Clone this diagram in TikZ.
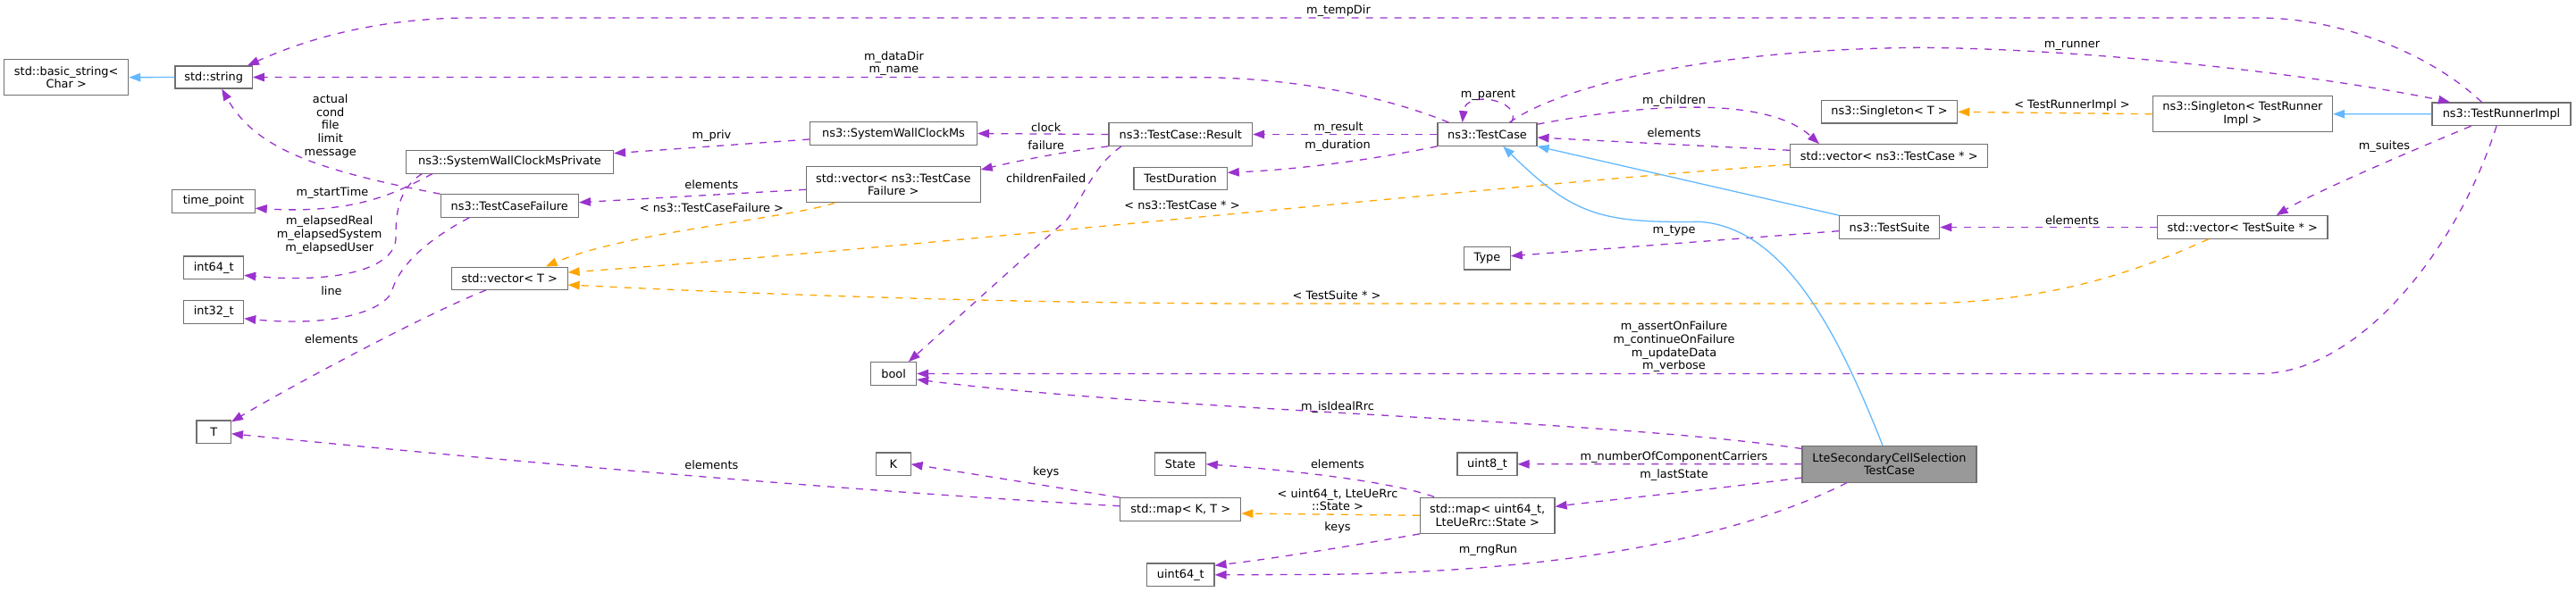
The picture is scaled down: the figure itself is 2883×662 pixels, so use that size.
\documentclass[tikz,border=0pt]{standalone}
\usepackage{fontspec}
\setmainfont{DejaVu Sans}
\usetikzlibrary{arrows.meta}
\definecolor{purp}{HTML}{9A32CD}
\definecolor{orng}{HTML}{FFA500}
\definecolor{blu}{HTML}{63B8FF}
\definecolor{bord}{HTML}{707070}
\definecolor{mainfill}{HTML}{999999}
\begin{document}
\begin{tikzpicture}[x=1pt,y=-1pt,
  box/.style={draw=bord, line width=1.1pt, fill=white, inner sep=0pt, align=center, font=\fontsize{12.9}{14.7}\selectfont},
  lbl/.style={inner sep=0pt, align=center, font=\fontsize{12.9}{14.7}\selectfont},
  mem/.style={draw=purp, line width=1.3pt, dash pattern=on 8pt off 8pt, -{Triangle[length=13pt,width=9.5pt]}},
  tmpl/.style={draw=orng, line width=1.3pt, dash pattern=on 8pt off 8pt, -{Triangle[length=13pt,width=9.5pt]}},
  inh/.style={draw=blu, line width=1.3pt, -{Triangle[length=13pt,width=9.5pt]}}]
\useasboundingbox (0,0) rectangle (2883,662);

% nodes
\node[box, minimum width=139pt, minimum height=40pt] (bstr) at (74.2,86.7) {std::basic\_string<\\Char >};
\node[box, minimum width=86.4pt, minimum height=25pt] (str) at (239.2,86.5) {std::string};
\node[box, minimum width=232pt, minimum height=25.7pt] (swcmp) at (570.5,181.2) {ns3::SystemWallClockMsPrivate};
\node[box, minimum width=92.3pt, minimum height=25.7pt] (timept) at (239,225.2) {time\_point};
\node[box, minimum width=154.3pt, minimum height=25.6pt] (tcf) at (570.3,230.5) {ns3::TestCaseFailure};
\node[box, minimum width=67pt, minimum height=25.7pt] (int64) at (239.2,299.8) {int64\_t};
\node[box, minimum width=129.5pt, minimum height=25.3pt] (vecT) at (570.3,311.7) {std::vector< T >};
\node[box, minimum width=67pt, minimum height=25.7pt] (int32) at (239.2,349.2) {int32\_t};
\node[box, minimum width=38.5pt, minimum height=25.7pt] (T) at (239.2,483.8) {T};
\node[box, minimum width=187pt, minimum height=25.6pt] (swcm) at (1000,149.5) {ns3::SystemWallClockMs};
\node[box, minimum width=194.7pt, minimum height=40pt] (vecTCF) at (999.8,206.7) {std::vector< ns3::TestCase\\Failure >};
\node[box, minimum width=51pt, minimum height=25.6pt] (bool) at (1000.1,418.5) {bool};
\node[box, minimum width=38.5pt, minimum height=25.7pt] (K) at (999.8,519.8) {K};
\node[box, minimum width=160.7pt, minimum height=25.6pt] (result) at (1321.3,150.5) {ns3::TestCase::Result};
\node[box, minimum width=104.2pt, minimum height=25.4pt] (tdur) at (1321.1,200) {TestDuration};
\node[box, minimum width=135pt, minimum height=25.6pt] (mapKT) at (1321.3,570.5) {std::map< K, T >};
\node[box, minimum width=56.5pt, minimum height=25.7pt] (state) at (1321,519.8) {State};
\node[box, minimum width=75.4pt, minimum height=25.7pt] (uint64) at (1321.3,643.8) {uint64\_t};
\node[box, minimum width=111pt, minimum height=25.6pt] (tc) at (1664.5,150.5) {ns3::TestCase};
\node[box, minimum width=51.6pt, minimum height=25.3pt] (type) at (1664.5,289.3) {Type};
\node[box, minimum width=67pt, minimum height=25.7pt] (uint8) at (1664.5,519.8) {uint8\_t};
\node[box, minimum width=150.6pt, minimum height=40.3pt] (mapU) at (1664.7,577.2) {std::map< uint64\_t,\\LteUeRrc::State >};
\node[box, minimum width=221.2pt, minimum height=25.6pt] (vecTC) at (2114.2,174.5) {std::vector< ns3::TestCase * >};
\node[box, minimum width=152.2pt, minimum height=25.3pt] (singT) at (2114.6,125.3) {ns3::Singleton< T >};
\node[box, minimum width=112.2pt, minimum height=25.6pt] (tsuite) at (2114.7,254.5) {ns3::TestSuite};
\node[box, fill=mainfill, minimum width=195pt, minimum height=40.7pt] (lte) at (2114.5,519.7) {LteSecondaryCellSelection\\TestCase};
\node[box, minimum width=201.4pt, minimum height=40pt] (singTRI) at (2509.9,127.7) {ns3::Singleton< TestRunner\\Impl >};
\node[box, minimum width=190.6pt, minimum height=25.6pt] (vecTS) at (2509.7,254.5) {std::vector< TestSuite * >};
\node[box, minimum width=155pt, minimum height=25.7pt] (tri) at (2799.5,127.8) {ns3::TestRunnerImpl};

% edges
\draw[inh] (str.west) -- (bstr.east);
\draw[mem] ([xshift=-22pt]tri.north) .. controls (2720,60) and (2620,20) .. (2528,20) -- (528,20) .. controls (420,20) and (340,45) .. ([xshift=-6pt]str.north east);
\draw[mem] ([xshift=13pt]tc.north west) .. controls (1560,112) and (1460,87) .. (1340,86.6) -- (str.east);
\draw[mem] (tcf.north west) .. controls (350,190) and (285,165) .. ([xshift=9pt]str.south);
\draw[mem] ([xshift=30pt]swcmp.south west) .. controls (445,215) and (400,240) .. ([yshift=-8pt]timept.east);
\draw[mem] ([xshift=18.4pt]swcmp.south west) .. controls (445,212) and (443,240) .. (443,266) .. controls (443,300) and (380,318) .. ([yshift=-8.5pt]int64.east);
\draw[mem] ([xshift=32.6pt]tcf.south west) .. controls (475,270) and (445,300) .. (438,328) .. controls (425,350) and (370,366) .. ([yshift=-7.5pt]int32.east);
\draw[mem] ([xshift=-26.3pt]vecT.south) .. controls (480,350) and (330,430) .. ([yshift=-2pt]T.north east);
\draw[mem] ([yshift=-6.5pt]swcm.west) -- ([yshift=9.5pt]swcmp.east);
\draw[mem] (result.west) -- (swcm.east);
\draw[mem] (result.south west) .. controls (1190,170) and (1140,180) .. ([yshift=16.7pt]vecTCF.east);
\draw[mem] ([xshift=14.6pt]result.south west) .. controls (1225,185) and (1215,215) .. (1195,245) -- ([xshift=16.7pt]bool.north);
\draw[mem] ([yshift=-5.6pt]vecTCF.west) -- ([yshift=3.8pt]tcf.east);
\draw[tmpl] ([xshift=-65.6pt]vecTCF.south) .. controls (880,245) and (700,260) .. ([xshift=40.4pt]vecT.north);
\draw[mem] (tc.west) -- (result.east);
\draw[mem] (tc.south west) .. controls (1530,180) and (1450,190) .. ([yshift=6.7pt]tdur.east);
\draw[mem] ([xshift=27pt]tc.north) .. controls (1705,112) and (1640,100) .. ([xshift=-27.8pt]tc.north);
\draw[mem] ([xshift=25pt]tc.north) .. controls (1740,100) and (1900,55) .. (2150,53.3) .. controls (2350,55) and (2600,85) .. ([xshift=-57.5pt]tri.north);
\draw[mem] ([yshift=-2pt]tc.north east) .. controls (1830,118) and (1975,105) .. ([xshift=-78.2pt]vecTC.north);
\draw[mem] ([yshift=6.2pt]vecTC.west) -- ([yshift=-3.5pt]tc.east);
\draw[tmpl] ([yshift=-9.8pt]vecTC.west) .. controls (1700,205) and (1000,280) .. ([yshift=6.7pt]vecT.east);
\draw[tmpl] (singTRI.west) -- (singT.east);
\draw[inh] (tri.west) -- (singTRI.east);
\draw[mem] ([xshift=-34pt]tri.south) .. controls (2720,160) and (2590,215) .. ([xshift=37.9pt]vecTS.north);
\draw[mem] (vecTS.west) -- (tsuite.east);
\draw[tmpl] ([xshift=-38pt]vecTS.south) .. controls (2400,300) and (2300,340) .. (2140,340) -- (1420,340) .. controls (1100,340) and (800,327) .. ([yshift=-7.3pt]vecT.east);
\draw[inh] (tsuite.north west) -- (tc.south east);
\draw[mem] ([yshift=-4.2pt]tsuite.west) -- ([yshift=2.6pt]type.east);
\draw[inh] ([xshift=-7.5pt]lte.north) .. controls (2060,380) and (2000,255) .. (1902,248.3) .. controls (1790,250) and (1760,240) .. ([xshift=17.7pt]tc.south);
\draw[mem] ([xshift=-5.5pt]tri.south) .. controls (2750,280) and (2640,418.5) .. (2528.6,418.5) -- (bool.east);
\draw[mem] ([yshift=-3.7pt]lte.north west) .. controls (1800,470) and (1300,460) .. ([yshift=-6.5pt]bool.east);
\draw[mem] (lte.west) -- (uint8.east);
\draw[mem] ([yshift=-15.3pt]lte.west) .. controls (1900,550) and (1800,560) .. ([yshift=9.9pt]mapU.east);
\draw[mem] ([xshift=-47.5pt]lte.south) .. controls (1950,600) and (1750,643.5) .. (1450,643.5) -- (uint64.east);
\draw[mem] (mapU.south west) .. controls (1520,610) and (1430,625) .. ([yshift=10.5pt]uint64.east);
\draw[mem] ([xshift=16.3pt]mapU.north west) .. controls (1560,540) and (1450,527) .. (state.east);
\draw[tmpl] (mapU.west) -- ([yshift=-4.5pt]mapKT.east);
\draw[mem] (mapKT.north west) -- (K.east);
\draw[mem] ([yshift=3.8pt]mapKT.west) .. controls (950,550) and (550,515) .. ([yshift=-1.9pt]T.east);

% labels
\node[lbl] (l1) at (1498,11.7) {m\_tempDir};
\node[lbl] (l2) at (1000.5,71.2) {m\_dataDir\\m\_name};
\node[lbl] (l3) at (369.7,141.2) {actual\\cond\\file\\limit\\message};
\node[lbl] (l4) at (372,215.7) {m\_startTime};
\node[lbl] (l5) at (368.7,263.3) {m\_elapsedReal\\m\_elapsedSystem\\m\_elapsedUser};
\node[lbl] (l6) at (371,325.5) {line};
\node[lbl] (l7) at (371,379.3) {elements};
\node[lbl] (l8) at (796.4,151.7) {m\_priv};
\node[lbl] (l9) at (1170.7,142.7) {clock};
\node[lbl] (l10) at (1170.7,162.3) {failure};
\node[lbl] (l11) at (796.4,206.7) {elements};
\node[lbl] (l12) at (796.4,232.3) {< ns3::TestCaseFailure >};
\node[lbl] (l13) at (1170.7,199.3) {childrenFailed};
\node[lbl] (l14) at (1323,230) {< ns3::TestCase * >};
\node[lbl] (l15) at (1665.5,106) {m\_parent};
\node[lbl] (l16) at (1498,142.7) {m\_result};
\node[lbl] (l17) at (1497,162.7) {m\_duration};
\node[lbl] (l18) at (1873.5,112.7) {m\_children};
\node[lbl] (l19) at (1873.5,148.3) {elements};
\node[lbl] (l20) at (1873.5,258.7) {m\_type};
\node[lbl] (l21) at (1496,331) {< TestSuite * >};
\node[lbl] (l22) at (2319,51.7) {m\_runner};
\node[lbl] (l23) at (2319,118.3) {< TestRunnerImpl >};
\node[lbl] (l24) at (2668.4,164.3) {m\_suites};
\node[lbl] (l25) at (2319,246.7) {elements};
\node[lbl] (l26) at (1873.5,388.5) {m\_assertOnFailure\\m\_continueOnFailure\\m\_updateData\\m\_verbose};
\node[lbl] (l27) at (1497,455.7) {m\_isIdealRrc};
\node[lbl] (l28) at (1873.5,511.7) {m\_numberOfComponentCarriers};
\node[lbl] (l29) at (1873.5,531.7) {m\_lastState};
\node[lbl] (l30) at (1497,519.3) {elements};
\node[lbl] (l31) at (1497,559.8) {< uint64\_t, LteUeRrc\\::State >};
\node[lbl] (l32) at (1497,590.7) {keys};
\node[lbl] (l33) at (1665.5,616) {m\_rngRun};
\node[lbl] (l34) at (1170.7,528.7) {keys};
\node[lbl] (l35) at (796.4,520.7) {elements};
\end{tikzpicture}
\end{document}
